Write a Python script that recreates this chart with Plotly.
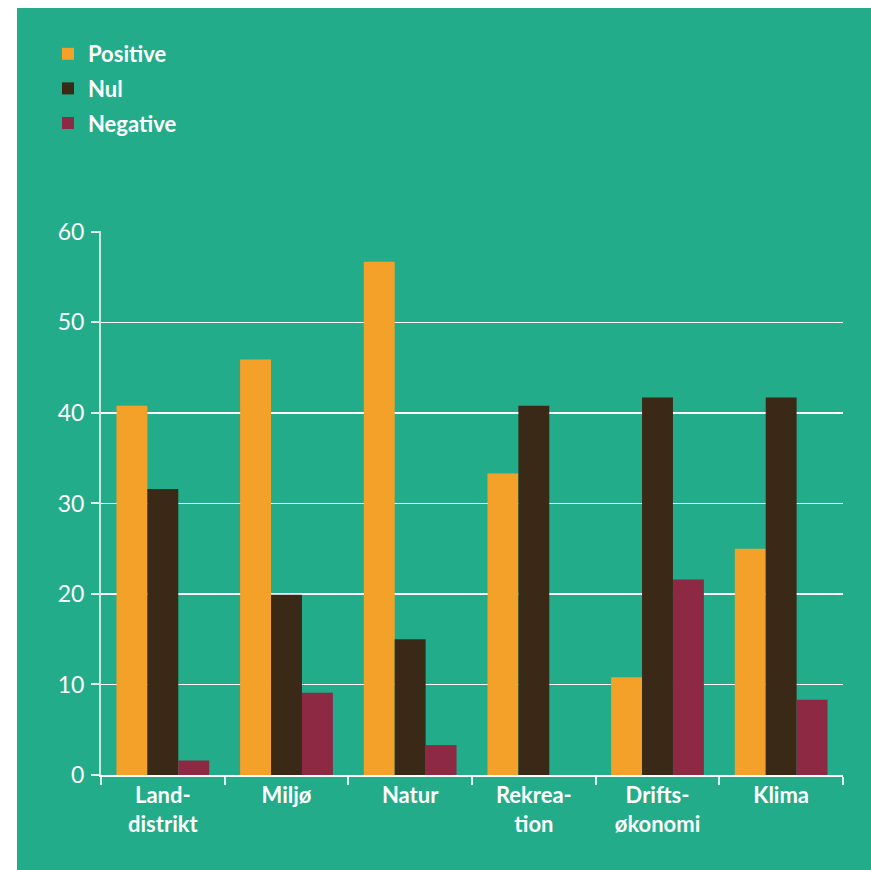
import plotly.graph_objects as go

categories = ["Land-<br>distrikt", "Miljø", "Natur", "Rekrea-<br>tion", "Drifts-<br>økonomi", "Klima"]
positive = [40.8, 45.9, 56.7, 33.3, 10.8, 25.0]
nul = [31.6, 19.9, 15.0, 40.8, 41.7, 41.7]
negative = [1.6, 9.1, 3.3, 0.0, 21.6, 8.3]
y_ticks = [0, 10, 20, 30, 40, 50, 60]

TEAL = "#22AC89"
ORANGE = "#F4A12A"
DARK = "#3A2917"
RED = "#8E2944"
FONT = "Lato, 'Open Sans', sans-serif"

fig = go.Figure()
fig.add_trace(go.Bar(name="Positive", x=categories, y=positive, legendgroup="a",
                     marker=dict(color=ORANGE, line=dict(width=0))))
fig.add_trace(go.Bar(name="Nul", x=categories, y=nul, legendgroup="b",
                     marker=dict(color=DARK, line=dict(width=0))))
fig.add_trace(go.Bar(name="Negative", x=categories, y=negative, legendgroup="c",
                     marker=dict(color=RED, line=dict(width=0))))

W, H = 871, 870
L, R, T, B = 101, 28, 231, 95
pw, ph = W - L - R, H - T - B

def px_x(p):
    return (p - L) / pw

def px_y(p):
    return (H - B - p) / ph

fig.update_layout(
    width=W, height=H,
    margin=dict(l=L, r=R, t=T, b=B),
    paper_bgcolor=TEAL, plot_bgcolor=TEAL,
    barmode="group", bargap=0.25, bargroupgap=0,
    font=dict(family=FONT, color="white", size=20),
    showlegend=True,
    legend=dict(
        x=px_x(48), y=px_y(33), xanchor="left", yanchor="top",
        bgcolor="rgba(0,0,0,0)",
        font=dict(family=FONT, size=22, color="white", weight="bold"),
        tracegroupgap=3, itemwidth=30,
    ),
    xaxis=dict(
        showgrid=False, showline=True, linecolor="white", linewidth=2,
        ticks="outside", tickson="boundaries", ticklen=8, tickcolor="rgba(255,255,255,0.85)", tickwidth=2,
        tickfont=dict(family=FONT, size=22, color="white", weight="bold"),
        fixedrange=True,
    ),
    yaxis=dict(
        range=[0, 60.1], tickvals=y_ticks, showgrid=True, gridcolor="white", gridwidth=1.5,
        showline=True, linecolor="rgba(255,255,255,0.75)", linewidth=2,
        ticks="outside", ticklen=8, tickcolor="rgba(255,255,255,0.85)", tickwidth=2,
        tickfont=dict(family=FONT, size=23, color="white"),
        ticklabelstandoff=2,
        zeroline=False, fixedrange=True,
    ),
    shapes=[
        dict(type="rect", xref="paper", yref="paper", x0=-0.3, x1=px_x(17), y0=-0.5, y1=1.6,
             fillcolor="white", line=dict(width=0), layer="above"),
        dict(type="rect", xref="paper", yref="paper", x0=-0.3, x1=1.3, y0=px_y(8), y1=1.6,
             fillcolor="white", line=dict(width=0), layer="above"),
    ],
)

fig.write_html(
    "out.html",
    config={"displayModeBar": False, "staticPlot": True},
    post_script="document.body.style.margin='0';document.body.style.padding='0';"
                "document.body.style.overflow='hidden';document.documentElement.style.overflow='hidden';"
                "document.body.style.background='" + TEAL + "';"
                "document.documentElement.style.background='" + TEAL + "';",
)
